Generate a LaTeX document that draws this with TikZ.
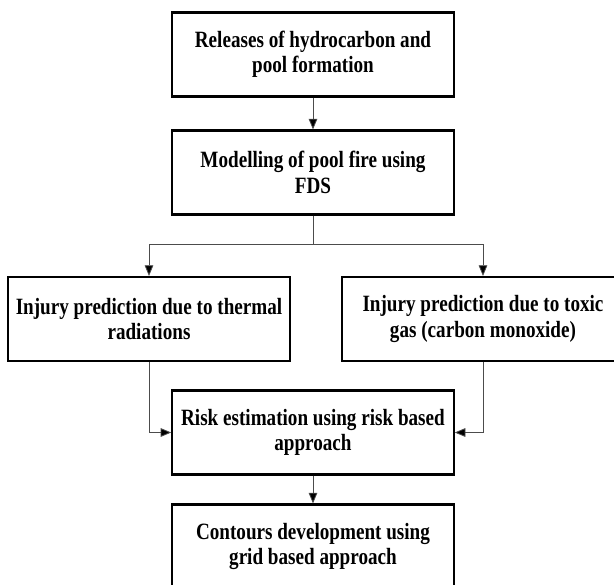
\documentclass[tikz,border=0pt]{standalone}
\usepackage{fontspec}
\setmainfont{Liberation Serif}[FakeStretch=0.82]
\usepackage{tikz}
\usetikzlibrary{arrows.meta}

\tikzset{
  stepbox/.style={draw, line width=1.6pt, minimum width=211pt, minimum height=63pt,
    align=center, font=\bfseries\fontsize{17.5}{19}\selectfont, inner sep=2pt},
  flow/.style={->, draw=black!70, line width=0.6pt}
}

\begin{document}
\begin{tikzpicture}[x=0.75pt, y=-0.75pt, >={Triangle[length=8pt, width=6.5pt, fill=black]}]
  \useasboundingbox (0,0) rectangle (614,585);

  \node[stepbox] (release) at (313,54.5) {Releases of hydrocarbon and\\pool formation};
  \node[stepbox] (fds) at (313,172.5) {Modelling of pool fire using\\FDS};
  \node[stepbox] (thermal) at (149,319) {Injury prediction due to thermal\\radiations};
  \node[stepbox] (toxic) at (483,319) {Injury prediction due to toxic\\gas (carbon monoxide)};
  \node[stepbox] (risk) at (313,432.5) {Risk estimation using risk based\\approach};
  \node[stepbox] (contour) at (313,546.5) {Contours development using\\grid based approach};

  \coordinate (split) at (313,244);

  \draw[flow] (release) -- (fds);
  \draw[flow] (fds.south) -- (split) -| (thermal.north);
  \draw[flow] (split) -| (toxic.north);
  \draw[flow] (thermal.south) |- (risk.west);
  \draw[flow] (toxic.south) |- (risk.east);
  \draw[flow] (risk) -- (contour);
\end{tikzpicture}
\end{document}
